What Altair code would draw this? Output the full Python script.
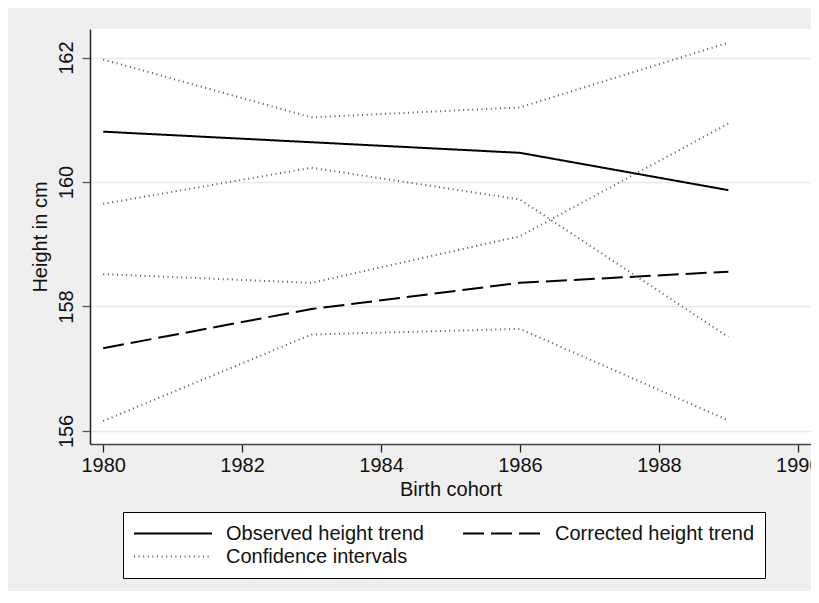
import altair as alt
import pandas as pd

years = [1980, 1983, 1986, 1989]
observed = [160.81, 160.64, 160.47, 159.87]
corrected = [157.33, 157.96, 158.38, 158.56]
obs_ci_upper = [161.97, 161.04, 161.20, 162.24]
obs_ci_lower = [159.65, 160.23, 159.72, 157.51]
cor_ci_upper = [158.52, 158.38, 159.13, 160.94]
cor_ci_lower = [156.16, 157.55, 157.64, 156.17]

series_names = ["Observed height trend", "Corrected height trend", "Confidence intervals"]
x_ticks = [1980, 1982, 1984, 1986, 1988, 1990]
y_ticks = [156, 158, 160, 162]

lines = [
    ("obs", series_names[0], observed),
    ("cor", series_names[1], corrected),
    ("obs_hi", series_names[2], obs_ci_upper),
    ("obs_lo", series_names[2], obs_ci_lower),
    ("cor_hi", series_names[2], cor_ci_upper),
    ("cor_lo", series_names[2], cor_ci_lower),
]
rows = []
for lid, name, vals in lines:
    for yr, v in zip(years, vals):
        rows.append({"year": yr, "height": v, "series": name, "line": lid})
df = pd.DataFrame(rows)

FONT = "Liberation Sans"

chart = alt.Chart(df).mark_line(strokeCap="butt", strokeJoin="miter").encode(
    x=alt.X("year:Q",
            scale=alt.Scale(domain=[1979.81, 1990.19], nice=False, zero=False),
            axis=alt.Axis(values=x_ticks, format="d", title="Birth cohort",
                          grid=False, tickSize=8, tickWidth=1.3, tickColor="#222",
                          domainColor="#444", domainWidth=1.5,
                          labelFontSize=20, labelFont=FONT, labelColor="#111",
                          labelPadding=3, labelFlush=False, labelOverlap=False,
                          titleFontSize=20, titleFont=FONT,
                          titleFontWeight="normal", titleColor="#111", titlePadding=4)),
    y=alt.Y("height:Q",
            scale=alt.Scale(domain=[155.79, 162.46], nice=False, zero=False),
            axis=alt.Axis(values=y_ticks, format="d", title="Height in cm",
                          grid=True, gridColor="#e8e8e8", gridWidth=1.5,
                          tickSize=8, tickWidth=1.3, tickColor="#555",
                          domainColor="#222", domainWidth=1.5,
                          labelAngle=-90, labelAlign="center", labelBaseline="alphabetic",
                          labelFontSize=20, labelFont=FONT, labelColor="#111",
                          labelPadding=10, titleFontSize=20, titleFont=FONT,
                          titleFontWeight="normal", titleColor="#111", titlePadding=6)),
    color=alt.Color("series:N",
                    scale=alt.Scale(domain=series_names, range=["#000000", "#000000", "#555555"]),
                    legend=alt.Legend(title=None, orient="none", legendX=33, legendY=483,
                                      direction="horizontal", columns=2, columnPadding=38,
                                      rowPadding=0,
                                      symbolType="stroke", symbolSize=6084, clipHeight=23,
                                      labelOffset=13, labelFontSize=20, labelFont=FONT,
                                      labelColor="#111", labelLimit=0, padding=10,
                                      strokeColor="#000", fillColor="#ffffff")),
    strokeDash=alt.StrokeDash("series:N",
                              scale=alt.Scale(domain=series_names,
                                              range=[[1, 0], [21, 7], [1, 3.6]]),
                              legend=alt.Legend(title=None)),
    strokeWidth=alt.StrokeWidth("series:N",
                                scale=alt.Scale(domain=series_names, range=[2, 2, 1]),
                                legend=alt.Legend(title=None)),
    detail="line:N",
    order="year:Q",
).properties(
    width=721, height=415,
    background="#efefef",
    padding={"left": 82, "top": 21, "right": 0, "bottom": 147},
    autosize=alt.AutoSizeParams(type="none"),
).configure_view(fill="#ffffff", stroke=None)

chart.save("out.html", embed_options={"renderer": "svg", "actions": False})
